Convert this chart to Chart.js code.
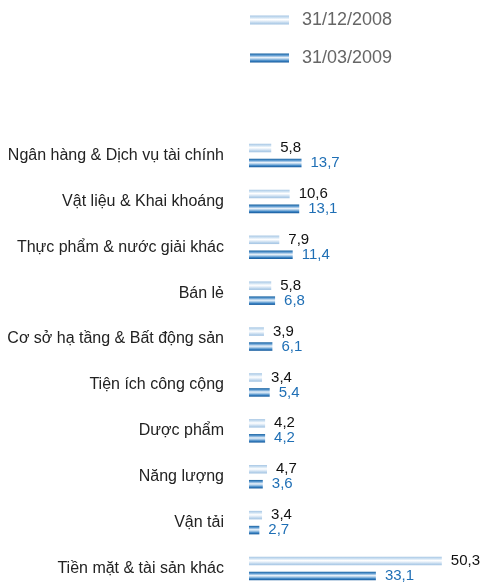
<!DOCTYPE html>
<html>
<head>
<meta charset="utf-8">
<title>Phân bổ tài sản theo ngành</title>
<script src="https://cdn.jsdelivr.net/npm/chart.js@4.4.1/dist/chart.umd.min.js"></script>
<style>
    html, body { margin: 0; padding: 0; background: #fff; }
    #chartBox { width: 484px; height: 585px; position: relative; }
</style>
</head>
<body>
<div id="chartBox"><canvas id="Chart"></canvas></div>
<script>
// sectors, top to bottom
const sectors = [
    'Ngân hàng & Dịch vụ tài chính',
    'Vật liệu & Khai khoáng',
    'Thực phẩm & nước giải khác',
    'Bán lẻ',
    'Cơ sở hạ tầng & Bất động sản',
    'Tiện ích công cộng',
    'Dược phẩm',
    'Năng lượng',
    'Vận tải',
    'Tiền mặt & tài sản khác'
];
const seriesNames = ['31/12/2008', '31/03/2009'];
const values2008 = [5.8, 10.6, 7.9, 5.8, 3.9, 3.4, 4.2, 4.7, 3.4, 50.3];
const values2009 = [13.7, 13.1, 11.4, 6.8, 6.1, 5.4, 4.2, 3.6, 2.7, 33.1];

const FONT = 'Arial, "Liberation Sans", sans-serif';

// tube-like stripes for each series (top -> bottom)
const stripes = [
    [[0, '#a6c6e4'], [0.22, '#cde1f2'], [0.45, '#ffffff'], [0.62, '#e4eef8'], [0.82, '#bcd5ec'], [1, '#a2c3e2']],
    [[0, '#15609f'], [0.2, '#5a98cf'], [0.45, '#eaf2fa'], [0.62, '#a6c9e7'], [0.82, '#3a82c2'], [1, '#12579a']]
];
const labelColors = ['#111111', '#1f6fb5'];

function makeGradient(ctx, top, height, stops) {
    const g = ctx.createLinearGradient(0, top, 0, top + height);
    stops.forEach(s => g.addColorStop(s[0], s[1]));
    return g;
}

function formatValue(v) {
    return v.toFixed(1).replace('.', ',');
}

// paint the bars with the striped gradient once their positions are known
const stripePlugin = {
    id: 'stripes',
    beforeDatasetsDraw(chart) {
        const ctx = chart.ctx;
        chart.data.datasets.forEach((ds, i) => {
            chart.getDatasetMeta(i).data.forEach(bar => {
                const top = bar.y - bar.height / 2;
                const g = makeGradient(ctx, top, bar.height, stripes[i]);
                bar.options = Object.assign({}, bar.options, { backgroundColor: g });
            });
        });
    }
};

// numbers at the end of each bar
const valueLabels = {
    id: 'valueLabels',
    afterDatasetsDraw(chart) {
        const ctx = chart.ctx;
        ctx.save();
        ctx.font = '15px ' + FONT;
        ctx.textAlign = 'left';
        ctx.textBaseline = 'middle';
        chart.data.datasets.forEach((ds, i) => {
            ctx.fillStyle = labelColors[i];
            chart.getDatasetMeta(i).data.forEach((bar, j) => {
                ctx.fillText(formatValue(ds.data[j]), bar.x + 9, bar.y);
            });
        });
        ctx.restore();
    }
};

// two-line legend above the bars
const stackedLegend = {
    id: 'stackedLegend',
    afterDraw(chart) {
        const ctx = chart.ctx;
        const left = chart.chartArea.left + 1;
        const rows = [20, 58];
        ctx.save();
        ctx.font = '18px ' + FONT;
        ctx.textAlign = 'left';
        ctx.textBaseline = 'middle';
        chart.data.datasets.forEach((ds, i) => {
            const top = rows[i] - 4.5;
            ctx.fillStyle = makeGradient(ctx, top, 9, stripes[i]);
            ctx.fillRect(left, top, 39, 9);
            ctx.fillStyle = '#666666';
            ctx.fillText(ds.label, left + 52, rows[i]);
        });
        ctx.restore();
    }
};

const ctx = document.getElementById('Chart').getContext('2d');
const myChart = new Chart(ctx, {
    type: 'bar',
    data: {
        labels: sectors,
        datasets: [
            { label: seriesNames[0], data: values2008, backgroundColor: '#bcd5ec' },
            { label: seriesNames[1], data: values2009, backgroundColor: '#3a82c2' }
        ]
    },
    options: {
        indexAxis: 'y',
        responsive: true,
        maintainAspectRatio: false,
        animation: false,
        events: [],
        layout: { padding: { top: 155.5, bottom: 16.5, left: 0, right: 5 } },
        datasets: {
            bar: { categoryPercentage: 0.652, barPercentage: 0.57, clip: false }
        },
        scales: {
            x: { display: false, min: 0, max: 60 },
            y: {
                offset: false,
                grid: { display: false, drawTicks: false },
                border: { display: false },
                ticks: { padding: 25, color: '#222222', font: { family: FONT, size: 16 } },
                afterFit(scale) {
                    // fixed label column, no extra room for the end labels
                    scale.width = 249;
                    scale.paddingTop = 0;
                    scale.paddingBottom = 0;
                }
            }
        },
        plugins: {
            legend: { display: false },
            tooltip: { enabled: false }
        }
    },
    plugins: [stripePlugin, valueLabels, stackedLegend]
});
</script>
</body>
</html>
